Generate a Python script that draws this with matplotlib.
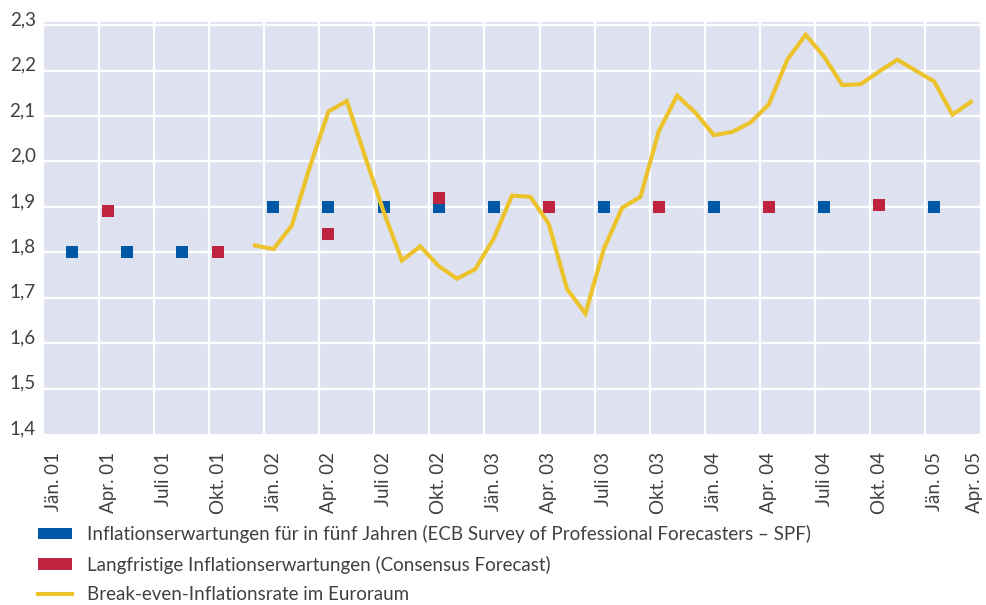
import matplotlib
matplotlib.use("Agg")
import matplotlib.pyplot as plt
from matplotlib.patches import Patch
from matplotlib.lines import Line2D

plt.rcParams['font.family'] = ['Lato', 'DejaVu Sans']

# x axis: month index, 0 = Jan 2001 ; points sit in the middle of their month
tick_labels = ['Jän. 01', 'Apr. 01', 'Juli 01', 'Okt. 01',
               'Jän. 02', 'Apr. 02', 'Juli 02', 'Okt. 02',
               'Jän. 03', 'Apr. 03', 'Juli 03', 'Okt. 03',
               'Jän. 04', 'Apr. 04', 'Juli 04', 'Okt. 04',
               'Jän. 05', 'Apr. 05']
tick_months = [0, 3, 6, 9, 12, 15, 18, 21, 24, 27, 30, 33, 36, 39, 42, 45, 48, 50.2]

# ECB Survey of Professional Forecasters
spf_months = [1, 4, 7, 12, 15, 18, 21, 24, 30, 36, 42, 48]
spf_values = [1.8, 1.8, 1.8, 1.9, 1.9, 1.9, 1.9, 1.9, 1.9, 1.9, 1.9, 1.9]

# Consensus Forecast
cons_months = [3, 9, 15, 21, 27, 33, 39, 45]
cons_values = [1.89, 1.80, 1.84, 1.92, 1.90, 1.90, 1.90, 1.905]

# break-even inflation rate, monthly Dez. 01 - März 05
be_start = 11
be_values = [1.815,
             1.807, 1.859, 1.99, 2.11, 2.133, 2.01, 1.89, 1.782, 1.813, 1.77, 1.742, 1.763,
             1.83, 1.925, 1.922, 1.863, 1.719, 1.665, 1.807, 1.898, 1.922, 2.067, 2.145, 2.107,
             2.058, 2.065, 2.086, 2.126, 2.224, 2.279, 2.231, 2.168, 2.17, 2.198, 2.224, 2.2,
             2.176, 2.103, 2.131]
be_months = list(range(be_start, be_start + len(be_values)))

blue = '#0057a5'
red = '#c0233f'
yellow = '#ecc32c'
bg = '#dee2f0'
txt = '#404040'

fig = plt.figure(figsize=(9.86, 6.05), dpi=100)
ax = fig.add_axes([44 / 986, 1 - 434 / 605, 936 / 986, 412 / 605])
ax.set_facecolor(bg)

ax.plot([m + 0.5 for m in spf_months], spf_values, 's', color=blue, ms=8.8, mew=0, zorder=3)
ax.plot([m + 0.5 for m in cons_months], cons_values, 's', color=red, ms=8.8, mew=0, zorder=3)
ax.plot([m + 0.5 for m in be_months], be_values, '-', color=yellow, lw=3.0,
        solid_joinstyle='miter', zorder=4)

ax.set_xlim(0, 51)
ax.set_ylim(1.4, 2.307)

for q in range(3, 51, 3):
    ax.axvline(q, color='white', lw=1.6, zorder=1)
for v in [1.5, 1.6, 1.7, 1.8, 1.9, 2.0, 2.1, 2.2, 2.3]:
    ax.axhline(v, color='white', lw=1.6, zorder=1)

for s in ax.spines.values():
    s.set_visible(False)

ax.set_yticks([1.4, 1.5, 1.6, 1.7, 1.8, 1.9, 2.0, 2.1, 2.2, 2.3])
ax.set_yticklabels([f'{v:.1f}'.replace('.', ',') for v in ax.get_yticks()])
for lbl in ax.get_yticklabels():
    lbl.set_va('baseline')
ax.set_xticks([m + 0.5 for m in tick_months])
ax.set_xticklabels(tick_labels, rotation=90, va='top', ha='center')
ax.tick_params(length=0, labelsize=13.5, colors=txt)
ax.tick_params(axis='y', pad=6)
ax.tick_params(axis='x', pad=13)

handles = [Patch(facecolor=blue, edgecolor='none'),
           Patch(facecolor=red, edgecolor='none'),
           Line2D([], [], color=yellow, lw=3.0)]
labels = ['Inflationserwartungen für in fünf Jahren (ECB Survey of Professional Forecasters – SPF)',
          'Langfristige Inflationserwartungen (Consensus Forecast)',
          'Break-even-Inflationsrate im Euroraum']
leg = fig.legend(handles, labels, loc='upper left', bbox_to_anchor=(38 / 986, 1 - 525 / 605),
                 frameon=False, fontsize=13.5, handlelength=1.8, handleheight=0.55,
                 handletextpad=0.8, labelspacing=0.66, borderaxespad=0, borderpad=0)
for t in leg.get_texts():
    t.set_color(txt)

fig.savefig('out.png', dpi=100)
